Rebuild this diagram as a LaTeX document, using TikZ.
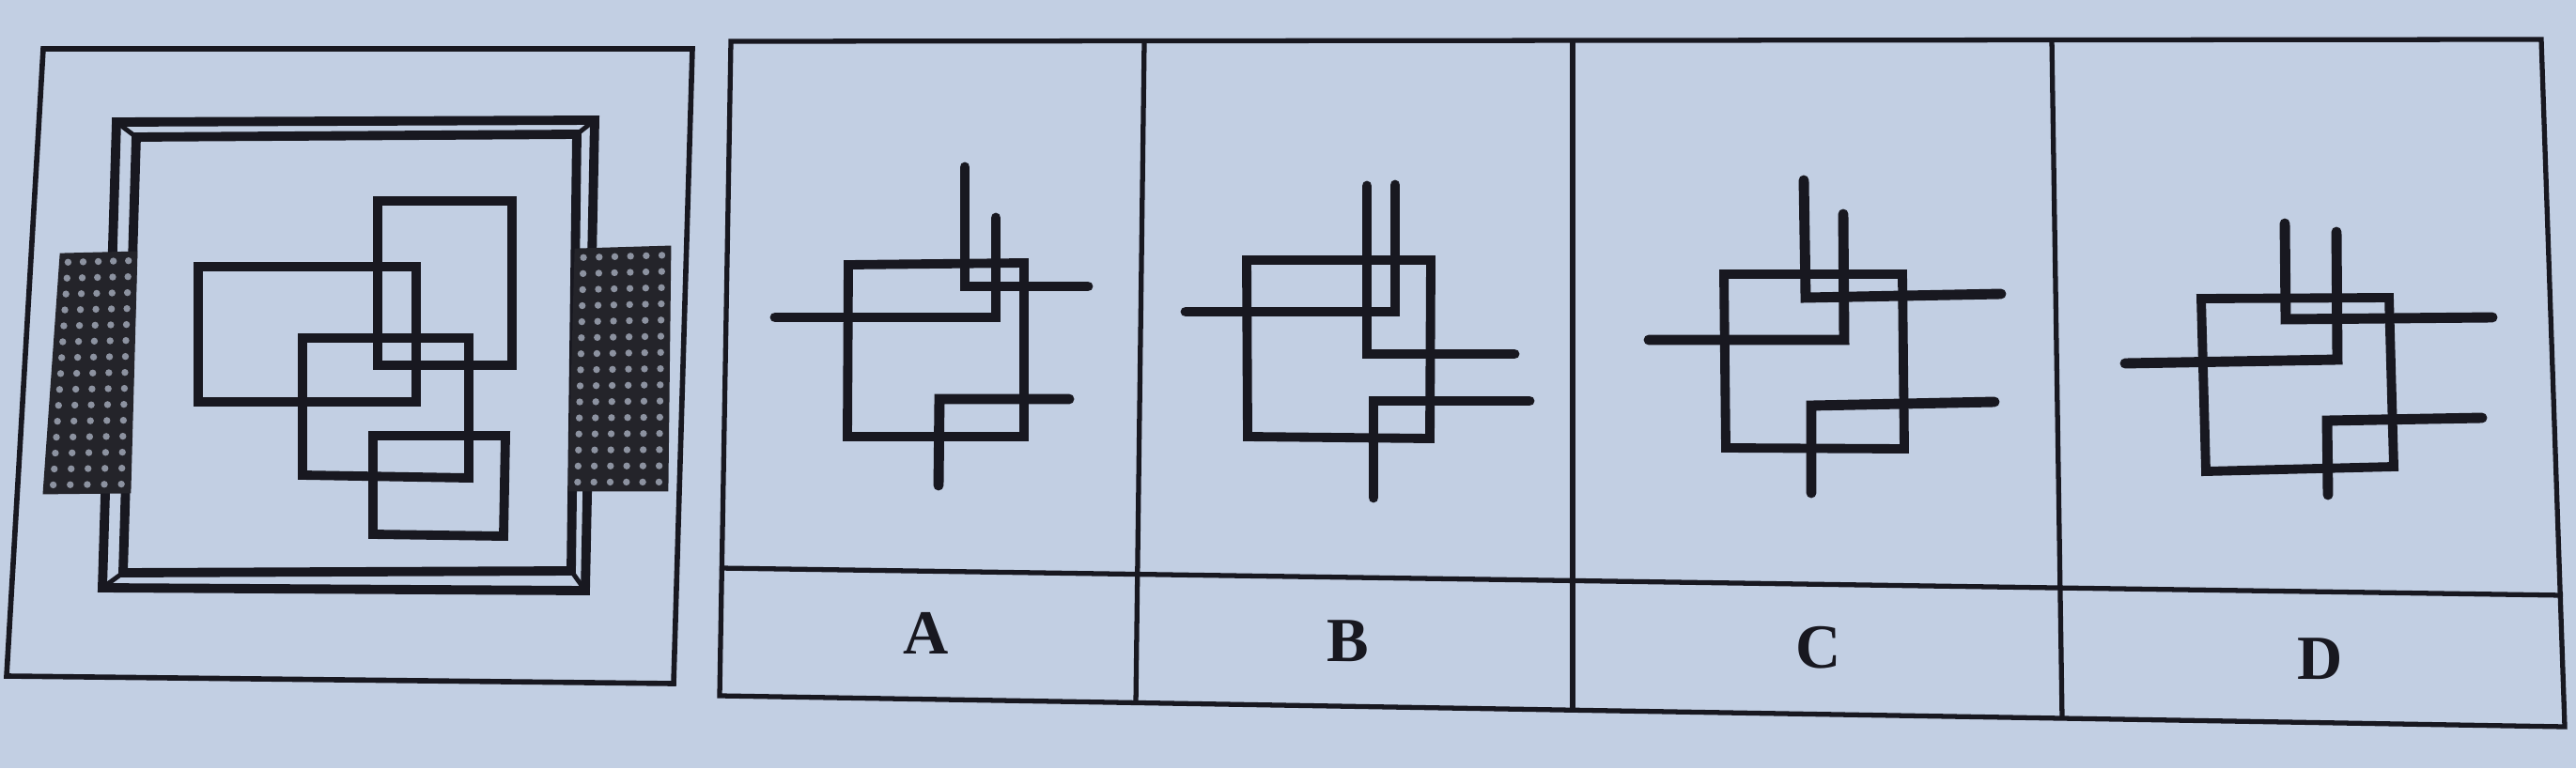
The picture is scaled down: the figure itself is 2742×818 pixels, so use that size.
\documentclass[tikz,border=0pt]{standalone}
\usepackage{fontspec}
\setmainfont{Liberation Serif}
\begin{document}
\begin{tikzpicture}[x=0.01cm,y=-0.01cm]
\definecolor{paper}{RGB}{194,207,227}
\definecolor{ink}{RGB}{24,24,32}
\definecolor{coilfill}{RGB}{36,36,42}
\definecolor{speck}{RGB}{140,146,160}
\tikzset{
  thinline/.style={draw=ink,line width=1.5pt,line join=miter},
  boxline/.style={draw=ink,line width=1.6pt,line join=miter},
  heavy/.style={draw=ink,line width=2.8pt,line join=miter},
  hook/.style={draw=ink,line width=3.1pt,line cap=round,line join=miter},
  coilbox/.style={fill=coilfill,draw=coilfill,line width=0.8pt},
  letter/.style={font=\fontsize{19}{19}\selectfont\bfseries,text=ink,inner sep=0pt},
}
\fill[paper] (0,0) rectangle (2742,818);
\useasboundingbox (0,0) rectangle (2742,818);

% ---------- left panel ----------
\draw[boxline] (46,52) -- (737,52) -- (717,728) -- (7,720) -- cycle;
% double frame
\draw[heavy] (124,130) -- (633,128) -- (623,629) -- (109,626) -- cycle;
\draw[heavy] (145,146) -- (614,143) -- (608,608) -- (131,610) -- cycle;
\draw[ink,line width=1.4pt] (124,130) -- (145,146);
\draw[ink,line width=1.4pt] (633,128) -- (614,143);
\draw[ink,line width=1.4pt] (623,629) -- (608,608);
\draw[ink,line width=1.4pt] (109,626) -- (131,610);
% inner rectangles
\draw[heavy] (402,214) -- (545,214) -- (545,389) -- (402,389) -- cycle;
\draw[heavy] (211,284) -- (443,284) -- (443,428) -- (211,428) -- cycle;
\draw[heavy] (322,360) -- (499,360) -- (499,509) -- (322,506) -- cycle;
\draw[heavy] (397,464) -- (538,464) -- (536,571) -- (397,569) -- cycle;
% coils
\fill[coilbox] (65,271) -- (145,269) -- (138,524) -- (47,525) -- cycle;
\foreach \i in {0,...,4} \foreach \j in {0,...,14} {
  \pgfmathsetmacro\u{(\i+0.5)/5}
  \pgfmathsetmacro\v{(\j+0.5)/15}
  \pgfmathsetmacro\px{(1-\u)*(1-\v)*65+\u*(1-\v)*145+\u*\v*138+(1-\u)*\v*47}
  \pgfmathsetmacro\py{(1-\u)*(1-\v)*271+\u*(1-\v)*269+\u*\v*524+(1-\u)*\v*525}
  \fill[speck] (\px,\py) circle[radius=1.05pt];
}
\fill[coilbox] (613,266) -- (713,263) -- (710,522) -- (606,522) -- cycle;
\foreach \i in {0,...,5} \foreach \j in {0,...,14} {
  \pgfmathsetmacro\u{(\i+0.5)/6}
  \pgfmathsetmacro\v{(\j+0.5)/15}
  \pgfmathsetmacro\px{(1-\u)*(1-\v)*613+\u*(1-\v)*713+\u*\v*710+(1-\u)*\v*606}
  \pgfmathsetmacro\py{(1-\u)*(1-\v)*266+\u*(1-\v)*263+\u*\v*522+(1-\u)*\v*522}
  \fill[speck] (\px,\py) circle[radius=1.05pt];
}

% ---------- answer table ----------
\draw[thinline] (778,44) -- (2705,42) -- (2730,774) -- (766,741) -- cycle;
\draw[thinline] (1218,44) -- (1209,750);
\draw[thinline] (1674,43) -- (1674,757);
\draw[thinline] (2184,42) -- (2195,766);
\draw[thinline] (766,605) -- (2728,634);

\node[letter] (la) at (986,674) {A};
\node[letter] (lb) at (1435,683) {B};
\node[letter] (lc) at (1936,690) {C};
\node[letter] (ld) at (2470,702) {D};

% option A
\draw[heavy] (903,282) -- (1090,280) -- (1090,465) -- (902,465) -- cycle;
\draw[hook] (825,338) -- (1060,338) -- (1060,232);
\draw[hook] (1027,178) -- (1027,305) -- (1158,305);
\draw[hook] (1138,425) -- (1000,425) -- (999,517);

% option B
\draw[heavy] (1327,277) -- (1523,277) -- (1522,467) -- (1328,465) -- cycle;
\draw[hook] (1262,332) -- (1485,332) -- (1485,197);
\draw[hook] (1455,198) -- (1455,377) -- (1612,377);
\draw[hook] (1628,427) -- (1462,427) -- (1462,530);

% option C
\draw[heavy] (1835,292) -- (2025,292) -- (2027,478) -- (1837,477) -- cycle;
\draw[hook] (1755,362) -- (1963,362) -- (1962,228);
\draw[hook] (1920,192) -- (1922,317) -- (2130,313);
\draw[hook] (2123,428) -- (1928,432) -- (1928,525);

% option D
\draw[heavy] (2343,318) -- (2543,317) -- (2548,497) -- (2348,502) -- cycle;
\draw[hook] (2262,387) -- (2488,383) -- (2487,247);
\draw[hook] (2432,238) -- (2433,340) -- (2653,338);
\draw[hook] (2642,445) -- (2477,448) -- (2478,527);
\end{tikzpicture}
\end{document}
